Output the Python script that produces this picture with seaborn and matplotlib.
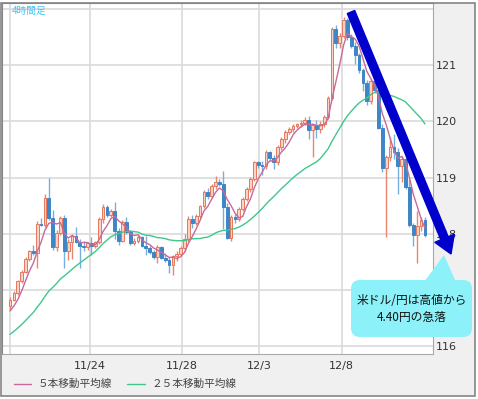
import numpy as np
import pandas as pd
import matplotlib
matplotlib.use('Agg')
import matplotlib.pyplot as plt
import seaborn as sns
from matplotlib.patches import FancyBboxPatch, Polygon, FancyArrow, Rectangle
from matplotlib.lines import Line2D
from matplotlib.transforms import IdentityTransform

# USD/JPY 4h candles
open_ = [116.71, 116.83, 116.95, 117.16, 117.32, 117.56, 117.69, 117.66, 118.18, 118.16,
         118.64, 118.29, 117.76, 118.02, 118.29, 117.70, 117.86, 117.97, 117.86, 117.79,
         117.76, 117.84, 117.78, 117.85, 118.27, 118.48, 118.34, 118.41, 118.05, 117.88,
         118.21, 118.04, 117.84, 117.88, 117.95, 117.79, 117.74, 117.68, 117.58, 117.77,
         117.57, 117.53, 117.45, 117.60, 117.64, 117.75, 117.90, 118.27, 118.20, 118.32,
         118.50, 118.74, 118.68, 118.85, 118.92, 118.89, 118.48, 117.92, 118.30, 118.26,
         118.45, 118.62, 118.80, 118.98, 119.27, 119.22, 119.20, 119.45, 119.35, 119.27,
         119.54, 119.68, 119.82, 119.86, 119.92, 119.95, 119.98, 120.03, 119.85, 119.94,
         119.86, 119.96, 120.08, 120.42, 121.65, 121.39, 121.52, 121.80, 121.50, 121.34,
         121.18, 120.91, 120.68, 120.36, 120.72, 120.56, 119.89, 119.18, 119.36, 119.54,
         119.45, 119.20, 119.34, 118.84, 118.15, 117.98, 118.14, 118.25]
high = [116.88, 116.99, 117.18, 117.35, 117.58, 117.72, 117.80, 118.22, 118.28, 118.71,
        119.00, 118.42, 118.06, 118.32, 118.33, 117.90, 117.99, 118.13, 117.90, 117.88,
        117.86, 117.95, 117.88, 118.30, 118.53, 118.52, 118.45, 118.57, 118.10, 118.24,
        118.30, 118.06, 117.92, 117.98, 117.97, 117.96, 117.78, 117.72, 117.80, 117.79,
        117.66, 117.58, 117.62, 117.70, 117.78, 118.00, 118.32, 118.34, 118.36, 118.52,
        118.78, 118.82, 118.88, 119.03, 118.98, 119.11, 118.55, 118.33, 118.36, 118.48,
        118.66, 118.84, 119.02, 119.30, 119.30, 119.30, 119.50, 119.48, 119.40, 119.58,
        119.72, 119.85, 119.90, 119.96, 119.98, 120.02, 120.08, 120.10, 119.98, 120.03,
        120.00, 120.12, 120.45, 121.68, 121.72, 121.58, 121.86, 121.84, 121.56, 121.42,
        121.22, 120.96, 120.74, 120.76, 120.80, 120.66, 119.95, 119.40, 119.72, 119.77,
        119.52, 119.38, 119.40, 118.97, 118.20, 118.40, 118.30, 118.30]
low = [116.65, 116.80, 116.91, 117.12, 117.30, 117.52, 117.62, 117.40, 118.14, 118.12,
       118.25, 117.72, 117.70, 117.98, 117.39, 117.53, 117.56, 117.83, 117.40, 117.70,
       117.72, 117.62, 117.74, 117.82, 118.20, 118.30, 118.30, 117.90, 117.80, 117.85,
       118.00, 117.80, 117.80, 117.84, 117.76, 117.62, 117.64, 117.55, 117.48, 117.55,
       117.50, 117.30, 117.26, 117.52, 117.60, 117.70, 117.86, 118.10, 118.16, 118.28,
       118.46, 118.62, 118.64, 118.80, 118.86, 118.09, 117.90, 117.88, 118.20, 118.22,
       118.40, 118.58, 118.74, 118.94, 119.18, 119.05, 119.16, 119.30, 119.15, 119.22,
       119.50, 119.62, 119.78, 119.82, 119.88, 119.90, 119.94, 119.68, 119.36, 119.70,
       119.80, 119.90, 120.05, 120.38, 121.30, 121.30, 121.48, 121.46, 121.30, 121.02,
       120.86, 120.55, 120.30, 120.32, 120.50, 119.86, 119.10, 117.95, 119.30, 119.33,
       118.71, 118.92, 118.80, 118.12, 117.78, 117.48, 118.05, 117.95]
close = [116.83, 116.95, 117.16, 117.32, 117.56, 117.69, 117.66, 118.18, 118.16, 118.64,
         118.29, 117.76, 118.02, 118.29, 117.70, 117.86, 117.97, 117.86, 117.79, 117.76,
         117.84, 117.78, 117.85, 118.27, 118.48, 118.34, 118.41, 118.05, 117.88, 118.21,
         118.04, 117.84, 117.88, 117.95, 117.79, 117.74, 117.68, 117.58, 117.77, 117.57,
         117.53, 117.45, 117.60, 117.64, 117.75, 117.90, 118.27, 118.20, 118.32, 118.50,
         118.74, 118.68, 118.85, 118.92, 118.89, 118.48, 117.92, 118.30, 118.26, 118.45,
         118.62, 118.80, 118.98, 119.27, 119.22, 119.20, 119.45, 119.35, 119.27, 119.54,
         119.68, 119.82, 119.86, 119.92, 119.95, 119.98, 120.03, 119.85, 119.94, 119.86,
         119.96, 120.08, 120.42, 121.65, 121.39, 121.52, 121.80, 121.50, 121.34, 121.18,
         120.91, 120.68, 120.36, 120.72, 120.56, 119.89, 119.18, 119.36, 119.54, 119.45,
         119.20, 119.34, 118.84, 118.15, 117.98, 118.14, 118.25, 117.98]
# closes before the first visible candle, only needed for the moving averages
warmup_close = [115.60, 115.70, 115.75, 115.80, 115.85, 115.90, 115.85, 115.95, 115.95, 116.00,
                116.10, 116.25, 116.30, 116.35, 116.40, 116.45, 116.40, 116.50, 116.45, 116.55,
                116.50, 116.60, 116.55, 116.65]

tick_pos = [0, 20.5, 44.3, 64.2, 85.5]
tick_labels = ['', '11/24', '11/28', '12/3', '12/8']
price_ticks = [116, 117, 118, 119, 120, 121, 122]
# 117 sits under the callout in the original, so its label is not shown
price_labels = ['116', '', '118', '119', '120', '121', '']

c_up_face, c_up_edge, c_up_wick = '#f9d3c8', '#e5775c', '#e8866e'
c_dn_face, c_dn_wick = '#3e86c8', '#77aee0'
c_ma5, c_ma25 = '#c9699b', '#3fc88a'

df = pd.DataFrame({'open': open_, 'high': high, 'low': low, 'close': close})
df['idx'] = np.arange(len(df))
all_close = pd.Series(warmup_close + close)
n_warm = len(warmup_close)
df['ma5'] = all_close.rolling(5).mean().iloc[n_warm:].values
df['ma25'] = all_close.rolling(25).mean().iloc[n_warm:].values
df['up'] = df['close'] >= df['open']

sns.set_style('white')
plt.rcParams['font.family'] = ['DejaVu Sans', 'Noto Sans CJK JP']
jp = ['Noto Sans CJK JP', 'DejaVu Sans']

W, H = 478, 399
px = IdentityTransform()
fig = plt.figure(figsize=(W / 100, H / 100), dpi=100)
fig.patch.set_facecolor('white')
fig.add_artist(Rectangle((1, H - 396), 474, 393, transform=px, fc='#f0f0f0',
                         ec='#858585', lw=1.2, zorder=-1))

ax = fig.add_axes([2 / W, 1 - 354 / H, 431 / W, 351 / H])
ax.set_facecolor('white')

for is_up, face, edge, wick in [(True, c_up_face, c_up_edge, c_up_wick),
                                (False, c_dn_face, c_dn_face, c_dn_wick)]:
    d = df[df['up'] == is_up]
    ax.vlines(d['idx'], d['low'], d['high'], colors=wick, lw=1, zorder=2)
    ax.bar(d['idx'], (d['close'] - d['open']).abs().clip(lower=0.015),
           bottom=d[['open', 'close']].min(axis=1), width=0.7,
           color=face, edgecolor=edge, lw=0.7, zorder=3)

sns.lineplot(data=df, x='idx', y='ma25', ax=ax, color=c_ma25, lw=1, zorder=4)
sns.lineplot(data=df, x='idx', y='ma5', ax=ax, color=c_ma5, lw=1, zorder=4)

ax.set_xlim(-2.07, 109.07)
ax.set_ylim(115.86, 122.11)
ax.set_xticks(tick_pos)
ax.set_xticklabels(tick_labels)
ax.set_yticks(price_ticks)
ax.set_yticklabels(price_labels)
ax.yaxis.tick_right()
ax.set_xlabel('')
ax.set_ylabel('')
ax.grid(True, color='#dadada', lw=1.2)
ax.set_axisbelow(True)
ax.tick_params(axis='y', length=0, pad=2, labelsize=8, labelcolor='#333333')
ax.tick_params(axis='x', length=0, pad=5, labelsize=8, labelcolor='#333333')
for side in ['left', 'top']:
    ax.spines[side].set_color('#858585')
for side in ['right', 'bottom']:
    ax.spines[side].set_color('#a8a8a8')

ax.text(0.023, 0.992, '4時間足', transform=ax.transAxes, family=jp, fontsize=7,
        color='#45c4f0', va='top')

# trend arrow and callout
fig.add_artist(FancyArrow(351, H - 12, 100, -242, width=8, head_width=21, head_length=17,
                          length_includes_head=True, color='#0000cc', transform=px, zorder=5))
fig.add_artist(FancyBboxPatch((351, H - 337), 121, 57, boxstyle='round,pad=0,rounding_size=9',
                              transform=px, fc='#8cf1f9', ec='none', zorder=6))
fig.add_artist(Polygon([(424, H - 282), (444, H - 255), (456, H - 282)], closed=True,
                       transform=px, fc='#8cf1f9', ec='none', zorder=6))
fig.text(412 / W, 1 - 300 / H, '米ドル/円は高値から', ha='center', va='center',
         fontsize=8.5, family=jp, color='#111111', zorder=7)
fig.text(412 / W, 1 - 318 / H, '4.40円の急落', ha='center', va='center',
         fontsize=8.5, family=jp, color='#111111', zorder=7)

# legend
fig.add_artist(Line2D([14, 31], [H - 384, H - 384], transform=px, color=c_ma5, lw=1))
fig.text(38 / W, 1 - 384 / H, '５本移動平均線', va='center', fontsize=7.7, family=jp,
         color='#444444')
fig.add_artist(Line2D([127, 145], [H - 384, H - 384], transform=px, color=c_ma25, lw=1))
fig.text(152 / W, 1 - 384 / H, '２５本移動平均線', va='center', fontsize=7.7, family=jp,
         color='#444444')

fig.savefig('out.png', dpi=100)
